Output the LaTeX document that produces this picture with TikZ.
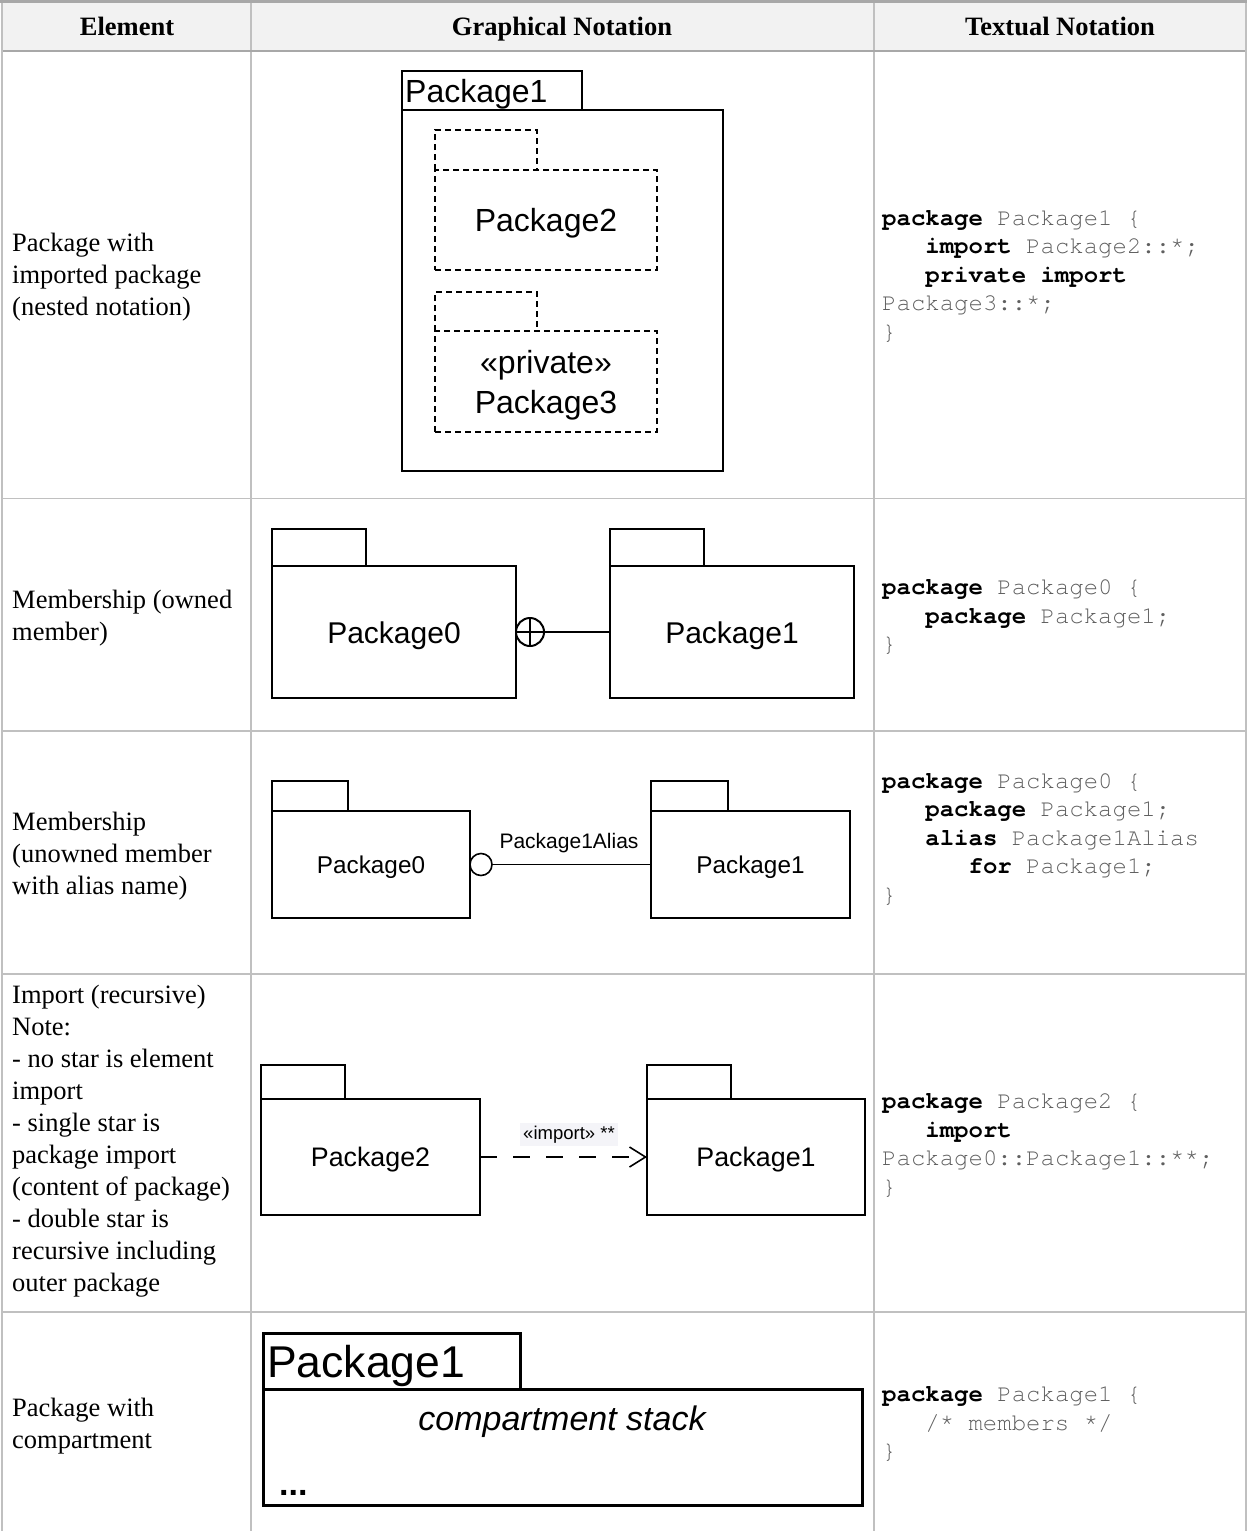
\documentclass[tikz,border=0pt]{standalone}
\usepackage{fontspec}
\setmainfont{Liberation Serif}
\setmonofont{TeX Gyre Cursor}
\newfontfamily\arialf{Liberation Sans}
\usetikzlibrary{arrows.meta}
\definecolor{hdrbg}{RGB}{242,242,242}
\definecolor{gridc}{RGB}{192,192,192}
\definecolor{gridd}{RGB}{168,168,168}
\definecolor{codegray}{RGB}{95,95,95}
\definecolor{lblbg}{RGB}{244,244,248}
\newcommand\kwd[1]{\textcolor{black}{\bfseries #1}}
\newcommand\ind{\phantom{xxx}}
\begin{document}
\begin{tikzpicture}[x=1pt,y=-1pt,
  elt/.style={anchor=base west, inner sep=0pt, font=\fontsize{26.5}{32}\selectfont},
  hdr/.style={anchor=base, inner sep=0pt, font=\fontsize{26.5}{32}\selectfont\bfseries},
  code/.style={anchor=base west, inner sep=0pt, font=\fontsize{24}{29}\selectfont\ttfamily, text=codegray},
  box/.style={draw=black, line width=2pt, inner sep=0pt, outer sep=0pt, anchor=north west},
  thinbox/.style={box, line width=1.6pt},
  tabonly/.style={inner sep=0pt, outer sep=0pt, anchor=north west},
  dsh/.style={line width=2pt, dash pattern=on 6pt off 4pt},
  lbl/.style={inner sep=0pt, font=\arialf\fontsize{#1}{#1}\selectfont},
  grid/.style={draw=gridc, line width=1.5pt}
]
\useasboundingbox (0,0) rectangle (1247,1531);
% ---------------- table ----------------
\fill[hdrbg] (2,2) rectangle (1245,51);
\draw[grid] (251,2) -- (251,1531);
\draw[grid] (874,2) -- (874,1531);
\draw[grid] (2,498.5) -- (1245,498.5);
\draw[grid] (2,731) -- (1245,731);
\draw[grid] (2,974) -- (1245,974);
\draw[grid] (2,1312) -- (1245,1312);
\draw[draw=gridd, line width=2.5pt] (2,51) -- (1245,51);
\draw[draw=gridc, line width=2pt] (2,0) -- (2,1531);
\draw[draw=gridc, line width=2pt] (1245.5,0) -- (1245.5,1531);
\draw[draw=gridd, line width=3pt] (0,1.5) -- (1247,1.5);
% headers
\node[hdr] (h1) at (127,35) {Element};
\node[hdr] (h2) at (562,35) {Graphical Notation};
\node[hdr] (h3) at (1060,35) {Textual Notation};
% ---------------- element column ----------------
\node[elt] (e1a) at (12,251) {Package with};
\node[elt] (e1b) at (12,283) {imported package};
\node[elt] (e1c) at (12,315) {(nested notation)};
\node[elt] (e2a) at (12,608) {Membership (owned};
\node[elt] (e2b) at (12,640) {member)};
\node[elt] (e3a) at (12,830) {Membership};
\node[elt] (e3b) at (12,862) {(unowned member};
\node[elt] (e3c) at (12,894) {with alias name)};
\node[elt] (e4a) at (12,1003) {Import (recursive)};
\node[elt] (e4b) at (12,1035) {Note:};
\node[elt] (e4c) at (12,1067) {- no star is element};
\node[elt] (e4d) at (12,1099) {import};
\node[elt] (e4e) at (12,1131) {- single star is};
\node[elt] (e4f) at (12,1163) {package import};
\node[elt] (e4g) at (12,1195) {(content of package)};
\node[elt] (e4h) at (12,1227) {- double star is};
\node[elt] (e4i) at (12,1259) {recursive including};
\node[elt] (e4j) at (12,1291) {outer package};
\node[elt] (e5a) at (12,1416) {Package with};
\node[elt] (e5b) at (12,1448) {compartment};
% ---------------- code column ----------------
\node[code] (c1a) at (882,225) {\kwd{package} Package1 \{};
\node[code] (c1b) at (882,253.5) {\ind\kwd{import} Package2::*;};
\node[code] (c1c) at (882,282) {\ind\kwd{private import}};
\node[code] (c1d) at (882,310.5) {Package3::*;};
\node[code] (c1e) at (882,339) {\}};
\node[code] (c2a) at (882,594.5) {\kwd{package} Package0 \{};
\node[code] (c2b) at (882,623) {\ind\kwd{package} Package1;};
\node[code] (c2c) at (882,651.5) {\}};
\node[code] (c3a) at (882,788) {\kwd{package} Package0 \{};
\node[code] (c3b) at (882,816.5) {\ind\kwd{package} Package1;};
\node[code] (c3c) at (882,845) {\ind\kwd{alias} Package1Alias};
\node[code] (c3d) at (882,873.5) {\ind\ind\kwd{for} Package1;};
\node[code] (c3e) at (882,902) {\}};
\node[code] (c4a) at (882,1108.5) {\kwd{package} Package2 \{};
\node[code] (c4b) at (882,1137) {\ind\kwd{import}};
\node[code] (c4c) at (882,1165.5) {Package0::Package1::**;};
\node[code] (c4d) at (882,1194) {\}};
\node[code] (c5a) at (882,1401.5) {\kwd{package} Package1 \{};
\node[code] (c5b) at (882,1430) {\ind/* members */};
\node[code] (c5c) at (882,1458.5) {\}};
% ---------------- row 1 diagram ----------------
\node[box, minimum width=180pt, minimum height=39pt] (r1tab) at (402,71) {};
\node[box, minimum width=321pt, minimum height=361pt] (r1body) at (402,110) {};
\node[lbl=32, anchor=base west] (r1name) at (405,102) {Package1};
\node[tabonly, minimum width=102pt, minimum height=40pt] (r1t2) at (435,130) {};
\draw[dsh] (r1t2.south west) -- (r1t2.north west) -- (r1t2.north east) -- (r1t2.south east);
\node[box, dsh, minimum width=222pt, minimum height=100pt] (r1p2) at (435,170) {};
\node[lbl=32, yshift=-3.5pt] (r1p2txt) at (r1p2.center) {Package2};
\node[tabonly, minimum width=102pt, minimum height=39pt] (r1t3) at (435,292) {};
\draw[dsh] (r1t3.south west) -- (r1t3.north west) -- (r1t3.north east) -- (r1t3.south east);
\node[box, dsh, minimum width=222pt, minimum height=101pt] (r1p3) at (435,331) {};
\node[lbl=32, align=center, font=\arialf\fontsize{32}{40}\selectfont, yshift=-4pt] (r1p3txt) at (r1p3.center) {«private»\\Package3};
% ---------------- row 2 diagram ----------------
\node[box, minimum width=94pt, minimum height=37pt] (r2t0) at (272,529) {};
\node[box, minimum width=244pt, minimum height=132pt] (r2p0) at (272,566) {};
\node[lbl=30, yshift=-3.5pt] (r2p0txt) at (r2p0.center) {Package0};
\node[box, minimum width=94pt, minimum height=37pt] (r2t1) at (610,529) {};
\node[box, minimum width=244pt, minimum height=132pt] (r2p1) at (610,566) {};
\node[lbl=30, yshift=-3.5pt] (r2p1txt) at (r2p1.center) {Package1};
\node[circle, draw=black, line width=2pt, minimum size=28pt, inner sep=0pt, outer sep=0pt] (r2c) at (530,632) {};
\draw[line width=2pt] (r2c.north) -- (r2c.south);
\draw[line width=2pt] (r2c.west) -- (r2c.east);
\draw[line width=2pt] (r2c.east) -- (r2p1.west);
% ---------------- row 3 diagram ----------------
\node[thinbox, minimum width=76pt, minimum height=30pt] (r3t0) at (272,781) {};
\node[thinbox, minimum width=198pt, minimum height=107pt] (r3p0) at (272,811) {};
\node[lbl=24.3, yshift=-3pt] (r3p0txt) at (r3p0.center) {Package0};
\node[thinbox, minimum width=77pt, minimum height=30pt] (r3t1) at (651,781) {};
\node[thinbox, minimum width=199pt, minimum height=107pt] (r3p1) at (651,811) {};
\node[lbl=24.3, yshift=-3pt] (r3p1txt) at (r3p1.center) {Package1};
\node[circle, draw=black, line width=1.6pt, minimum size=22pt, inner sep=0pt, outer sep=0pt] (r3c) at (481,864.5) {};
\draw[line width=1.6pt] (r3c.east) -- (r3p1.west);
\node[lbl=21] (r3lbl) at (569,843) {Package1Alias};
% ---------------- row 4 diagram ----------------
\node[thinbox, minimum width=84pt, minimum height=34pt] (r4t0) at (261,1065) {};
\node[thinbox, minimum width=219pt, minimum height=116pt] (r4p0) at (261,1099) {};
\node[lbl=26.8, yshift=-3pt] (r4p0txt) at (r4p0.center) {Package2};
\node[thinbox, minimum width=84pt, minimum height=34pt] (r4t1) at (647,1065) {};
\node[thinbox, minimum width=218pt, minimum height=116pt] (r4p1) at (647,1099) {};
\node[lbl=26.8, yshift=-3pt] (r4p1txt) at (r4p1.center) {Package1};
\draw[line width=1.6pt, dash pattern=on 17pt off 16pt, -{Straight Barb[length=16pt, width=20pt, line width=1.6pt]}] (r4p0.east) -- (r4p1.west);
\node[fill=lblbg, minimum width=98pt, minimum height=23pt, inner sep=0pt, font=\arialf\fontsize{18.5}{18.5}\selectfont] (r4lbl) at (569,1134.5) {«import» **};
% ---------------- row 5 diagram ----------------
\node[box, line width=3pt, minimum width=257pt, minimum height=56pt] (r5tab) at (263,1333) {};
\node[box, line width=3pt, minimum width=599pt, minimum height=116pt] (r5body) at (263,1389) {};
\node[lbl=44.5, anchor=base west] (r5name) at (267,1377) {Package1};
\node[lbl=34, font=\arialf\itshape\fontsize{34}{34}\selectfont, yshift=-4pt] (r5comp) at (562,1418) {compartment stack};
\node[lbl=34, font=\arialf\bfseries\fontsize{34}{34}\selectfont, anchor=base west] (r5dots) at (279,1495) {...};
\end{tikzpicture}
\end{document}
